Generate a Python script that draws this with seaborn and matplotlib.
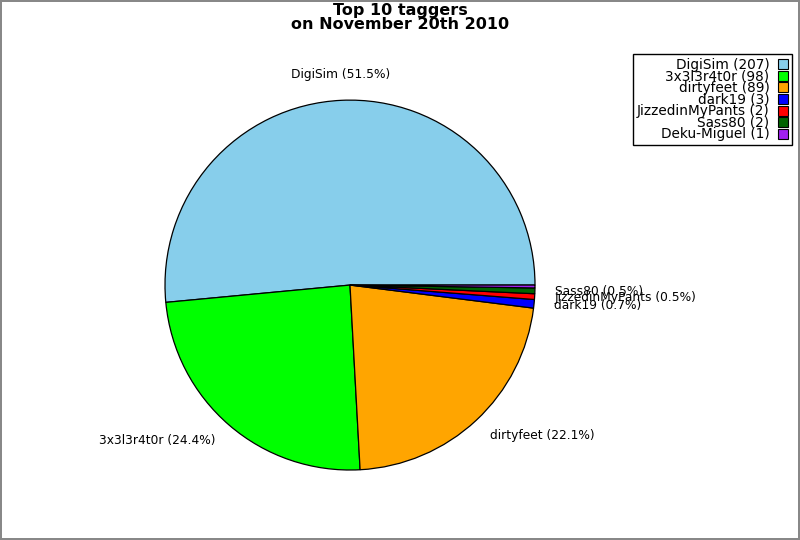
import matplotlib
matplotlib.use('Agg')
import matplotlib.pyplot as plt
import matplotlib.patches as mpatches
import seaborn as sns
import numpy as np

taggers = ['DigiSim', '3x3l3r4t0r', 'dirtyfeet', 'dark19', 'JizzedinMyPants', 'Sass80', 'Deku-Miguel']
counts = [207, 98, 89, 3, 2, 2, 1]
colors = ['#87CEEB', '#00FF00', '#FFA500', '#0000FF', '#FF0000', '#006400', '#A020F0']

sns.set_style('white')
plt.rcParams['font.family'] = ['DejaVu Sans']
plt.rcParams['text.color'] = 'black'

total = sum(counts)
pielabels = []
for name, c in zip(taggers, counts):
    pct = 100.0 * c / total
    # the tiniest slice gets no label on the pie
    pielabels.append('%s (%.1f%%)' % (name, pct) if pct >= 0.4 else '')

fig = plt.figure(figsize=(8, 5.4), dpi=100)
fig.patch.set_edgecolor('#888888')
fig.patch.set_linewidth(1.5)

ax = fig.add_axes([0.20625, 0.1296, 0.4625, 0.685])
wedges, texts = ax.pie(counts, labels=pielabels, colors=colors, startangle=0,
                       counterclock=True, labeldistance=1.11,
                       wedgeprops={'edgecolor': 'black', 'linewidth': 0.9},
                       textprops={'fontsize': 8.8, 'color': 'black'})
# labels close to the top are centred over the slice
for w, t in zip(wedges, texts):
    mid = np.deg2rad((w.theta1 + w.theta2) / 2)
    if abs(np.cos(mid)) < 0.2:
        t.set_ha('center')
        t.set_y(t.get_position()[1] + 0.03)
ax.set_xlim(-1, 1)
ax.set_ylim(-1, 1)
ax.set_aspect('auto')
ax.axis('off')

fig.suptitle('Top 10 taggers\non November 20th 2010', fontsize=11.5,
             fontweight='bold', y=0.995, linespacing=0.95, color='black')

handles = [mpatches.Patch(facecolor=col, edgecolor='black', linewidth=0.8) for col in colors]
leglabels = ['%s (%d)' % (n, c) for n, c in zip(taggers, counts)]
leg = fig.legend(handles, leglabels, loc='upper right', bbox_to_anchor=(0.99, 0.9),
                 markerfirst=False, fontsize=9.8, labelspacing=-0.18, handlelength=0.75,
                 handleheight=0.75, handletextpad=0.6, borderpad=0.3, fancybox=False,
                 framealpha=1, edgecolor='black', borderaxespad=0)
leg.get_frame().set_linewidth(1)
for t in leg.get_texts():
    t.set_ha('right')
    t.set_color('black')
leg._legend_box.align = 'right'

fig.savefig('out.png', dpi=100, edgecolor=fig.get_edgecolor())
